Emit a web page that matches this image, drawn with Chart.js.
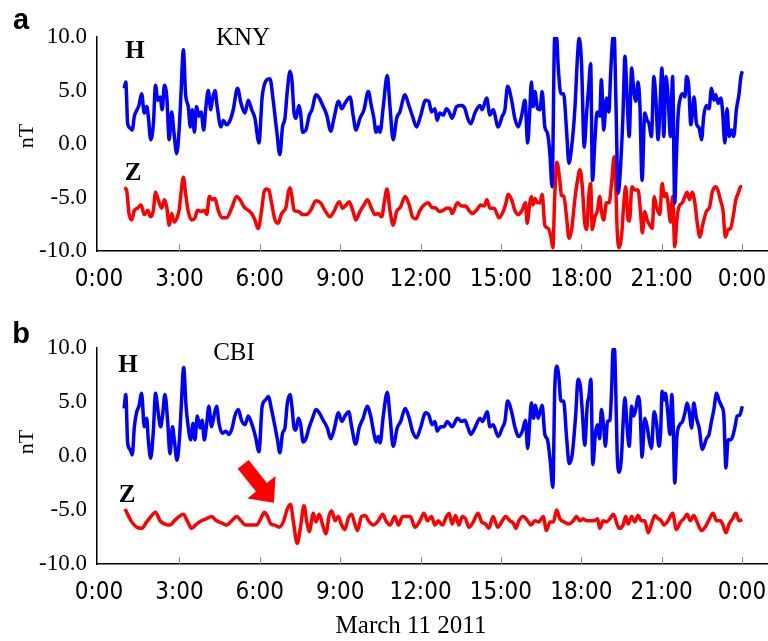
<!DOCTYPE html>
<html lang="en">
<head>
<meta charset="utf-8">
<title>KNY / CBI - March 11 2011</title>
<script src="https://cdn.jsdelivr.net/npm/chart.js@4.4.1/dist/chart.umd.min.js"></script>
<style>
    html, body { margin: 0; padding: 0; background: #fff; }
    #pagina { position: relative; width: 768px; height: 641px; overflow: hidden; }
    canvas { position: absolute; left: 0; }
    #graficoA { top: 0; }
    #graficoB { top: 310px; }
</style>
</head>
<body>
<div id="pagina">
    <canvas id="graficoA" width="768" height="300"></canvas>
    <canvas id="graficoB" width="768" height="331"></canvas>
</div>
<script>
// horas (UT) e valores em nT
const horasKnyH = [
    0.94, 1.00, 1.07, 1.16, 1.24, 1.32, 1.42, 1.49, 1.59, 1.69,
    1.78, 1.84, 1.93, 2.03, 2.11, 2.19, 2.28, 2.36, 2.44, 2.53,
    2.62, 2.71, 2.80, 2.90, 2.99, 3.06, 3.15, 3.23, 3.33, 3.41,
    3.48, 3.56, 3.64, 3.73, 3.81, 3.91, 3.98, 4.08, 4.17, 4.23,
    4.33, 4.41, 4.55, 4.64, 4.76, 4.89, 5.01, 5.17, 5.30, 5.45,
    5.57, 5.70, 5.82, 5.97, 6.09, 6.26, 6.38, 6.50, 6.63, 6.75,
    6.85, 6.94, 7.03, 7.13, 7.20, 7.28, 7.35, 7.46, 7.52, 7.60,
    7.72, 7.85, 7.95, 8.10, 8.22, 8.35, 8.50, 8.65, 8.77, 8.94,
    9.06, 9.18, 9.37, 9.49, 9.59, 9.74, 9.89, 10.05, 10.17, 10.26,
    10.34, 10.42, 10.49, 10.61, 10.76, 10.86, 10.98, 11.11, 11.23, 11.42,
    11.54, 11.70, 11.85, 12.00, 12.19, 12.31, 12.41, 12.54, 12.62, 12.72,
    12.85, 12.97, 13.05, 13.18, 13.35, 13.53, 13.66, 13.76, 13.88, 14.03,
    14.22, 14.30, 14.47, 14.59, 14.71, 14.90, 15.05, 15.15, 15.25, 15.40,
    15.52, 15.65, 15.77, 15.90, 16.00, 16.08, 16.14, 16.20, 16.27, 16.37,
    16.46, 16.54, 16.64, 16.74, 16.83, 16.91, 17.01, 17.08, 17.14, 17.24,
    17.34, 17.45, 17.54, 17.64, 17.76, 17.86, 17.92, 18.01, 18.11, 18.20,
    18.28, 18.35, 18.42, 18.51, 18.59, 18.69, 18.75, 18.84, 18.94, 19.03,
    19.10, 19.19, 19.23, 19.29, 19.38, 19.46, 19.56, 19.63, 19.71, 19.79,
    19.88, 19.96, 20.04, 20.12, 20.19, 20.27, 20.37, 20.46, 20.53, 20.62,
    20.71, 20.78, 20.87, 20.93, 21.01, 21.08, 21.16, 21.24, 21.33, 21.41,
    21.49, 21.55, 21.62, 21.71, 21.78, 21.87, 21.93, 22.01, 22.09, 22.15,
    22.21, 22.30, 22.40, 22.49, 22.57, 22.67, 22.77, 22.86, 22.95, 23.02,
    23.11, 23.21, 23.27, 23.36, 23.44, 23.52, 23.61, 23.69, 23.79, 23.89,
    23.96, 24.01
];
const knyH = [
    5.2, 5.8, 1.9, 1.5, 1.3, 2.6, 3.2, 3.6, 4.7, 2.9,
    3.5, 2.6, 0.4, 1.9, 5.5, 4.1, 4.4, 3.2, 5.5, 4.4,
    0.4, 3.0, 1.0, -0.9, 1.3, 4.7, 8.8, 4.7, 3.5, 1.6,
    3.2, 1.1, 3.5, 2.6, 3.0, 1.3, 3.2, 5.0, 3.2, 4.1,
    5.0, 3.5, 1.6, 2.2, 1.8, 2.2, 3.2, 5.2, 3.8, 2.9,
    4.1, 3.2, 2.4, 0.1, 4.4, 6.0, 6.1, 4.1, 1.3, -1.0,
    1.6, 2.4, 5.0, 6.8, 6.0, 2.9, 2.4, 3.6, 3.0, 1.1,
    1.3, 2.7, 3.2, 4.6, 4.3, 3.6, 2.7, 1.2, 2.4, 4.0,
    3.3, 3.8, 4.4, 2.6, 1.3, 2.4, 3.2, 4.9, 3.5, 2.4,
    1.1, 1.6, 1.1, 3.5, 6.4, 3.5, 0.4, 2.4, 3.0, 4.6,
    3.8, 2.6, 1.6, 2.6, 4.1, 4.0, 3.0, 3.3, 2.2, 2.9,
    2.7, 3.3, 3.1, 2.4, 3.5, 3.6, 3.3, 2.4, 1.9, 2.9,
    3.6, 3.2, 4.3, 2.7, 3.2, 1.6, 2.6, 3.2, 5.4, 4.1,
    2.4, 1.6, 2.6, 4.1, 0.1, 3.2, 5.8, 3.5, 4.9, 3.3,
    3.2, 4.9, 1.6, 1.0, -0.9, -4.0, 10.0, 10.0, 7.2, 4.7,
    4.7, 1.3, -1.8, -0.3, 3.2, 8.2, 9.9, 7.5, -0.3, 2.9,
    5.4, 7.5, -3.4, 0.4, 3.0, 2.6, 6.0, 1.3, 4.3, 3.0,
    6.8, 10.0, 10.0, 4.4, -4.6, -2.4, 2.9, 8.2, 4.4, 0.7,
    7.1, 5.0, 4.0, 5.8, 3.5, -3.4, 2.9, 2.2, 1.9, 0.7,
    6.3, 4.4, 0.4, 2.9, 7.1, 0.7, 6.3, 4.4, 0.7, 6.3,
    -5.5, -1.2, 2.9, 4.4, 4.7, 4.4, 6.3, 5.4, 1.8, 2.9,
    4.4, 1.9, 1.5, 0.4, 2.6, 3.6, 3.3, 5.2, 4.1, 4.6,
    3.8, 4.3, 3.2, 0.1, 3.3, 0.7, 1.3, 0.7, 3.2, 4.7,
    6.3, 6.8
];

const horasKnyZ = [
    0.94, 1.03, 1.12, 1.22, 1.32, 1.44, 1.57, 1.69, 1.82, 1.92,
    2.03, 2.11, 2.21, 2.34, 2.44, 2.53, 2.62, 2.71, 2.81, 2.91,
    2.99, 3.06, 3.15, 3.23, 3.33, 3.46, 3.58, 3.68, 3.81, 3.93,
    4.02, 4.12, 4.23, 4.33, 4.45, 4.60, 4.76, 4.95, 5.14, 5.26,
    5.42, 5.57, 5.70, 5.82, 5.94, 6.07, 6.16, 6.26, 6.34, 6.44,
    6.57, 6.69, 6.80, 6.88, 6.98, 7.06, 7.13, 7.20, 7.28, 7.44,
    7.60, 7.75, 7.90, 8.10, 8.27, 8.43, 8.62, 8.77, 8.97, 9.09,
    9.22, 9.34, 9.47, 9.59, 9.74, 9.89, 10.02, 10.17, 10.30, 10.42,
    10.55, 10.65, 10.75, 10.86, 10.98, 11.11, 11.25, 11.43, 11.58, 11.70,
    11.83, 11.98, 12.13, 12.29, 12.41, 12.57, 12.70, 12.85, 12.97, 13.10,
    13.18, 13.38, 13.53, 13.68, 13.81, 13.93, 14.09, 14.25, 14.38, 14.48,
    14.59, 14.75, 14.93, 15.09, 15.19, 15.27, 15.40, 15.52, 15.65, 15.79,
    15.92, 15.98, 16.08, 16.14, 16.20, 16.27, 16.37, 16.46, 16.54, 16.64,
    16.77, 16.87, 16.94, 17.01, 17.09, 17.20, 17.26, 17.35, 17.45, 17.54,
    17.64, 17.76, 17.86, 17.95, 18.03, 18.13, 18.20, 18.28, 18.35, 18.41,
    18.51, 18.60, 18.69, 18.75, 18.84, 18.94, 19.04, 19.13, 19.23, 19.29,
    19.34, 19.41, 19.50, 19.59, 19.66, 19.75, 19.80, 19.89, 20.00, 20.12,
    20.21, 20.28, 20.37, 20.46, 20.56, 20.65, 20.72, 20.81, 20.93, 21.02,
    21.10, 21.16, 21.24, 21.33, 21.41, 21.49, 21.57, 21.64, 21.77, 21.87,
    21.95, 22.04, 22.14, 22.24, 22.33, 22.43, 22.52, 22.67, 22.79, 22.89,
    23.01, 23.10, 23.19, 23.29, 23.38, 23.48, 23.57, 23.67, 23.77, 23.86,
    23.95, 24.01
];
const knyZ = [
    -4.1, -4.3, -6.5, -7.1, -6.2, -6.0, -5.7, -6.6, -6.2, -6.8,
    -6.2, -4.5, -5.2, -6.0, -5.2, -5.9, -7.6, -6.5, -7.3, -6.9,
    -6.2, -4.6, -3.1, -4.6, -6.3, -7.1, -6.9, -6.2, -6.3, -6.2,
    -6.6, -4.9, -5.2, -5.1, -6.2, -6.9, -6.9, -6.0, -4.9, -5.2,
    -5.9, -6.2, -6.5, -7.1, -7.9, -6.2, -4.5, -4.2, -4.3, -5.5,
    -7.1, -7.4, -6.6, -6.3, -5.9, -4.6, -4.1, -4.9, -6.2, -6.3,
    -6.6, -6.6, -6.2, -5.3, -5.5, -6.2, -6.8, -6.3, -5.4, -6.0,
    -5.7, -5.4, -6.2, -7.1, -6.3, -5.7, -5.2, -6.0, -6.6, -6.5,
    -6.8, -5.4, -4.2, -6.2, -7.6, -6.3, -5.9, -4.9, -5.7, -6.8,
    -7.0, -6.2, -5.7, -5.5, -5.9, -6.0, -6.3, -6.2, -6.0, -6.0,
    -6.5, -5.5, -5.8, -5.8, -6.2, -6.5, -6.2, -5.7, -5.8, -5.2,
    -6.0, -6.0, -6.9, -6.3, -5.5, -4.7, -5.2, -6.2, -6.6, -6.2,
    -5.5, -7.4, -5.5, -4.9, -5.7, -5.1, -5.5, -5.5, -4.7, -7.6,
    -7.9, -8.7, -9.7, -4.9, -1.7, -3.4, -4.8, -4.9, -6.8, -8.8,
    -8.0, -5.2, -3.4, -2.4, -3.7, -7.4, -8.0, -4.9, -3.7, -8.0,
    -6.8, -6.3, -4.9, -6.2, -7.1, -5.5, -5.5, -3.7, -1.2, -4.0,
    -8.0, -9.7, -8.7, -5.5, -4.0, -7.1, -7.2, -4.0, -4.3, -4.3,
    -6.3, -8.3, -6.3, -7.1, -7.6, -7.9, -4.9, -5.9, -6.6, -3.7,
    -4.9, -4.6, -5.5, -7.3, -4.9, -9.6, -7.1, -5.9, -5.5, -4.9,
    -4.5, -5.2, -4.5, -5.5, -7.4, -8.7, -7.7, -6.3, -5.9, -4.5,
    -4.0, -4.3, -5.2, -6.2, -8.7, -8.0, -7.9, -6.8, -5.2, -4.6,
    -4.0, -4.0
];

const horasCbiH = [
    0.94, 1.00, 1.07, 1.16, 1.24, 1.32, 1.41, 1.49, 1.59, 1.69,
    1.78, 1.84, 1.93, 2.03, 2.11, 2.21, 2.30, 2.37, 2.46, 2.56,
    2.65, 2.74, 2.81, 2.91, 3.00, 3.07, 3.16, 3.25, 3.33, 3.42,
    3.51, 3.58, 3.67, 3.77, 3.85, 3.93, 4.02, 4.10, 4.20, 4.29,
    4.39, 4.48, 4.60, 4.73, 4.85, 4.97, 5.07, 5.20, 5.32, 5.45,
    5.57, 5.70, 5.84, 5.97, 6.09, 6.22, 6.32, 6.44, 6.57, 6.66,
    6.75, 6.85, 6.94, 7.03, 7.13, 7.20, 7.28, 7.35, 7.44, 7.52,
    7.62, 7.72, 7.85, 7.97, 8.10, 8.22, 8.37, 8.52, 8.65, 8.77,
    8.94, 9.06, 9.18, 9.32, 9.43, 9.58, 9.71, 9.86, 10.01, 10.14,
    10.26, 10.34, 10.42, 10.49, 10.61, 10.76, 10.86, 10.98, 11.13, 11.26,
    11.43, 11.58, 11.70, 11.85, 12.00, 12.19, 12.31, 12.43, 12.54, 12.62,
    12.75, 12.87, 13.00, 13.18, 13.38, 13.53, 13.66, 13.76, 13.88, 14.03,
    14.22, 14.32, 14.49, 14.59, 14.71, 14.90, 15.05, 15.15, 15.25, 15.40,
    15.52, 15.67, 15.80, 15.92, 16.00, 16.08, 16.14, 16.22, 16.29, 16.39,
    16.54, 16.64, 16.74, 16.84, 16.94, 17.01, 17.09, 17.16, 17.24, 17.34,
    17.45, 17.55, 17.66, 17.79, 17.88, 17.97, 18.05, 18.13, 18.23, 18.28,
    18.36, 18.43, 18.53, 18.60, 18.69, 18.75, 18.84, 18.90, 18.98, 19.07,
    19.13, 19.19, 19.24, 19.29, 19.34, 19.41, 19.50, 19.56, 19.63, 19.71,
    19.79, 19.88, 19.96, 20.04, 20.12, 20.19, 20.27, 20.37, 20.46, 20.53,
    20.62, 20.72, 20.81, 20.90, 20.96, 21.02, 21.08, 21.14, 21.22, 21.31,
    21.38, 21.43, 21.49, 21.57, 21.68, 21.78, 21.87, 21.95, 22.03, 22.12,
    22.20, 22.30, 22.40, 22.52, 22.67, 22.77, 22.86, 22.95, 23.05, 23.15,
    23.24, 23.32, 23.40, 23.48, 23.57, 23.65, 23.73, 23.82, 23.92, 24.01
];
const cbiH = [
    4.4, 5.7, 1.2, 0.6, 0.1, 2.7, 4.1, 4.6, 5.8, 2.7,
    3.5, 1.5, -0.2, 2.4, 5.8, 4.0, 2.7, 3.7, 5.7, 3.3,
    0.2, 2.7, 1.5, -0.4, 1.5, 4.6, 8.2, 4.6, 2.7, 1.5,
    3.0, 1.5, 3.7, 2.6, 3.3, 1.5, 3.0, 4.6, 2.7, 3.7,
    4.6, 3.0, 2.1, 2.3, 2.0, 2.6, 3.7, 4.3, 3.3, 2.9,
    3.7, 3.0, 1.8, 0.4, 4.6, 5.2, 5.5, 4.3, 2.7, 1.5,
    0.3, 2.1, 2.6, 4.9, 5.7, 4.6, 2.6, 2.4, 3.5, 3.0,
    1.3, 1.6, 2.7, 3.5, 4.3, 4.0, 3.3, 2.6, 1.6, 2.4,
    4.0, 3.2, 3.7, 4.1, 2.7, 1.1, 2.6, 3.5, 4.6, 3.7,
    2.1, 1.3, 1.8, 1.2, 3.7, 5.9, 3.7, 0.9, 2.6, 3.2,
    4.4, 3.5, 2.3, 1.7, 2.6, 4.0, 3.8, 2.9, 3.2, 2.3,
    2.7, 2.7, 3.2, 2.7, 3.5, 3.2, 3.3, 2.7, 2.0, 2.6,
    3.5, 3.2, 4.1, 2.7, 2.9, 1.8, 2.6, 3.2, 5.1, 4.1,
    2.7, 1.8, 2.3, 3.3, 0.7, 3.3, 4.9, 3.5, 4.7, 3.5,
    4.7, 2.0, 1.5, -0.4, -2.9, 6.1, 8.3, 7.4, 5.1, 5.1,
    1.8, -0.7, 0.1, 3.7, 7.1, 6.4, 3.7, 1.0, 4.9, 5.4,
    7.1, -0.8, 2.1, 2.9, 1.6, 4.3, 2.7, 0.9, 3.2, 3.3,
    6.0, 9.9, 9.9, 5.8, 0.3, -1.5, -0.1, 3.0, 5.4, 2.7,
    0.9, 4.6, 3.7, 4.4, 5.5, 4.6, -0.1, 3.5, 2.7, 1.6,
    0.7, 4.1, 3.0, 0.9, 2.1, 6.0, 5.2, 5.8, 4.3, 2.0,
    5.7, 3.0, -2.5, 1.8, 2.9, 3.2, 4.0, 4.9, 4.1, 2.6,
    4.9, 3.5, 2.6, 0.6, 1.6, 2.0, 3.2, 4.3, 5.8, 5.1,
    4.6, 3.8, -1.1, 1.5, 1.5, 1.8, 2.6, 3.7, 3.8, 4.6
];

const horasCbiZ = [
    0.97, 1.09, 1.22, 1.41, 1.59, 1.78, 1.94, 2.11, 2.28, 2.46,
    2.65, 2.81, 2.99, 3.15, 3.31, 3.46, 3.64, 3.83, 4.02, 4.20,
    4.39, 4.58, 4.76, 4.95, 5.14, 5.30, 5.47, 5.70, 5.88, 6.04,
    6.17, 6.29, 6.42, 6.57, 6.72, 6.88, 7.03, 7.15, 7.25, 7.40,
    7.52, 7.65, 7.75, 7.85, 8.00, 8.10, 8.22, 8.35, 8.47, 8.59,
    8.69, 8.81, 8.93, 9.06, 9.18, 9.30, 9.43, 9.55, 9.65, 9.80,
    9.93, 10.09, 10.24, 10.42, 10.59, 10.71, 10.86, 11.04, 11.18, 11.33,
    11.48, 11.62, 11.79, 11.98, 12.13, 12.26, 12.41, 12.54, 12.66, 12.82,
    12.97, 13.07, 13.18, 13.31, 13.43, 13.56, 13.68, 13.81, 13.97, 14.15,
    14.28, 14.43, 14.55, 14.71, 14.88, 15.03, 15.18, 15.34, 15.46, 15.56,
    15.67, 15.83, 16.00, 16.12, 16.27, 16.42, 16.58, 16.70, 16.83, 16.96,
    17.08, 17.20, 17.35, 17.54, 17.70, 17.82, 17.95, 18.07, 18.20, 18.36,
    18.48, 18.61, 18.69, 18.82, 18.94, 19.07, 19.20, 19.41, 19.56, 19.66,
    19.75, 19.88, 20.00, 20.12, 20.25, 20.37, 20.50, 20.62, 20.75, 20.87,
    20.99, 21.08, 21.24, 21.41, 21.55, 21.71, 21.83, 21.95, 22.07, 22.20,
    22.32, 22.49, 22.67, 22.79, 22.92, 23.05, 23.20, 23.29, 23.40, 23.52,
    23.65, 23.77, 23.89, 24.01
];
const cbiZ = [
    -4.9, -5.5, -6.1, -6.6, -6.7, -6.1, -5.6, -5.2, -6.0, -6.3,
    -6.4, -6.0, -5.6, -5.4, -6.1, -6.7, -6.3, -6.0, -5.8, -5.6,
    -6.0, -6.2, -6.4, -6.0, -5.6, -6.0, -6.4, -6.4, -6.4, -5.8,
    -5.2, -5.6, -6.3, -6.4, -6.6, -6.1, -4.9, -4.5, -6.0, -8.1,
    -6.6, -4.6, -6.0, -7.0, -5.3, -6.1, -5.4, -6.4, -7.2, -5.5,
    -5.1, -6.0, -5.6, -6.4, -6.8, -5.8, -5.4, -6.3, -6.9, -5.6,
    -5.5, -6.1, -6.4, -6.0, -5.4, -6.0, -6.4, -5.6, -6.4, -5.6,
    -5.6, -5.6, -6.6, -6.0, -5.3, -6.0, -5.6, -6.4, -6.0, -6.4,
    -5.6, -5.3, -6.3, -5.5, -6.4, -5.6, -5.8, -6.6, -6.1, -5.3,
    -6.1, -6.3, -6.7, -5.6, -6.6, -6.1, -5.6, -6.0, -6.2, -6.7,
    -6.0, -5.6, -6.0, -6.4, -6.0, -6.1, -5.6, -6.9, -6.1, -6.1,
    -5.0, -5.8, -6.1, -6.3, -6.0, -5.6, -6.0, -5.8, -6.0, -6.0,
    -6.0, -5.8, -6.7, -6.0, -6.1, -5.8, -5.4, -6.7, -6.4, -5.6,
    -6.3, -5.6, -6.1, -5.5, -6.0, -6.0, -7.1, -6.3, -5.5, -5.8,
    -6.0, -6.4, -6.0, -5.3, -6.8, -6.1, -5.8, -5.4, -6.0, -5.5,
    -6.1, -6.9, -6.4, -5.8, -5.3, -6.0, -6.0, -6.4, -7.1, -6.3,
    -5.8, -5.3, -6.0, -5.9
];

const horasDosTicks = [0, 3, 6, 9, 12, 15, 18, 21, 24];
const rotulosDosTicks = ["0:00", "3:00", "6:00", "9:00", "12:00", "15:00", "18:00", "21:00", "0:00"];
const valoresDosTicksY = [-10, -5, 0, 5, 10];
const rotulosDosTicksY = ["-10.0", "-5.0", "0.0", "5.0", "10.0"];

const corH = "#0000ff";
const corZ = "#ff0000";
const fonteSerifa = "'Liberation Serif', 'Times New Roman', serif";
const fonteEstreita = "'Liberation Sans Narrow', 'DejaVu Sans Condensed', sans-serif";

function criarSerie(horas, valores, cor) {
    return {
        data: horas.map((h, i) => ({ x: h, y: valores[i] })),
        borderColor: cor,
        backgroundColor: cor,
        borderWidth: 3.5,
        pointRadius: 0,
        cubicInterpolationMode: "monotone",
        clip: 0
    };
}

function pluginAnotacoes(anot) {
    return {
        id: "anotacoes",
        afterDraw(chart) {
            const ctx = chart.ctx;
            const escalaX = chart.scales.x;
            const escalaY = chart.scales.y;
            const base = chart.chartArea.bottom;

            ctx.save();
            ctx.strokeStyle = "#8c8c8c";
            ctx.lineWidth = 1;
            horasDosTicks.forEach(h => {
                if (h === 0) return;
                const px = Math.round(escalaX.getPixelForValue(h)) + 0.5;
                ctx.beginPath();
                ctx.moveTo(px, base);
                ctx.lineTo(px, base - 7);
                ctx.stroke();
            });

            ctx.fillStyle = "#000";
            ctx.textAlign = "center";
            ctx.textBaseline = "alphabetic";

            ctx.font = "bold 29px 'Liberation Sans', Arial, sans-serif";
            ctx.fillText(anot.letra, anot.posLetra[0], anot.posLetra[1]);

            ctx.font = `25px ${fonteSerifa}`;
            ctx.fillText(anot.estacao, anot.posEstacao[0], anot.posEstacao[1]);

            ctx.font = `bold 25px ${fonteSerifa}`;
            ctx.fillText("H", anot.posH[0], anot.posH[1]);
            ctx.fillText("Z", anot.posZ[0], anot.posZ[1]);

            ctx.save();
            ctx.font = `22px ${fonteSerifa}`;
            ctx.translate(anot.posUnidade[0], anot.posUnidade[1]);
            ctx.rotate(-Math.PI / 2);
            ctx.fillText("nT", 0, 0);
            ctx.restore();

            if (anot.rodape) {
                ctx.font = `25px ${fonteSerifa}`;
                ctx.fillText(anot.rodape, anot.posRodape[0], anot.posRodape[1]);
            }

            if (anot.seta) {
                const x0 = escalaX.getPixelForValue(anot.seta.de[0]);
                const y0 = escalaY.getPixelForValue(anot.seta.de[1]);
                const x1 = escalaX.getPixelForValue(anot.seta.ate[0]);
                const y1 = escalaY.getPixelForValue(anot.seta.ate[1]);
                const comp = Math.hypot(x1 - x0, y1 - y0);
                const ux = (x1 - x0) / comp, uy = (y1 - y0) / comp;
                const nx = -uy, ny = ux;
                const haste = 7, cabeca = 18, compCabeca = 20;
                const bx = x1 - ux * compCabeca, by = y1 - uy * compCabeca;
                ctx.fillStyle = corZ;
                ctx.beginPath();
                ctx.moveTo(x0 + nx * haste, y0 + ny * haste);
                ctx.lineTo(bx + nx * haste, by + ny * haste);
                ctx.lineTo(bx + nx * cabeca, by + ny * cabeca);
                ctx.lineTo(x1, y1);
                ctx.lineTo(bx - nx * cabeca, by - ny * cabeca);
                ctx.lineTo(bx - nx * haste, by - ny * haste);
                ctx.lineTo(x0 - nx * haste, y0 - ny * haste);
                ctx.closePath();
                ctx.fill();
            }
            ctx.restore();
        }
    };
}

function criarGrafico(canvas, series, topo, alturaEixoX, anot) {
    return new Chart(canvas, {
        type: "line",
        data: { datasets: series },
        options: {
            responsive: false,
            animation: false,
            devicePixelRatio: 1,
            layout: { padding: { top: topo, right: 0, bottom: 0, left: 0 } },
            plugins: {
                legend: { display: false },
                tooltip: { enabled: false }
            },
            scales: {
                x: {
                    type: "linear",
                    min: -0.075,
                    max: 24.97,
                    afterBuildTicks: escala => { escala.ticks = horasDosTicks.map(h => ({ value: h })); },
                    afterFit: escala => {
                        escala.height = alturaEixoX;
                        escala.paddingLeft = 0;
                        escala.paddingRight = 0;
                    },
                    grid: { display: false, drawTicks: false },
                    border: { display: true, color: "#000", width: 1.5 },
                    ticks: {
                        autoSkip: false,
                        maxRotation: 0,
                        padding: 14,
                        color: "#000",
                        font: { family: fonteEstreita, size: 24 },
                        callback: (valor, indice) => rotulosDosTicks[indice]
                    }
                },
                y: {
                    type: "linear",
                    min: -10,
                    max: 10,
                    afterBuildTicks: escala => { escala.ticks = valoresDosTicksY.map(v => ({ value: v })); },
                    afterFit: escala => { escala.width = 97; },
                    grid: { display: false, drawTicks: false },
                    border: { display: true, color: "#000", width: 1.5 },
                    ticks: {
                        padding: 10,
                        color: "#000",
                        font: { family: fonteSerifa, size: 23 },
                        callback: (valor, indice) => rotulosDosTicksY[indice]
                    }
                }
            }
        },
        plugins: [pluginAnotacoes(anot)]
    });
}

criarGrafico(document.querySelector("#graficoA"),
    [criarSerie(horasKnyH, knyH, corH), criarSerie(horasKnyZ, knyZ, corZ)],
    37, 49, {
        letra: "a", posLetra: [21, 29],
        estacao: "KNY", posEstacao: [243, 45],
        posH: [135, 58], posZ: [133, 180],
        posUnidade: [33, 136]
    });

criarGrafico(document.querySelector("#graficoB"),
    [criarSerie(horasCbiH, cbiH, corH), criarSerie(horasCbiZ, cbiZ, corZ)],
    38, 77, {
        letra: "b", posLetra: [21, 33],
        estacao: "CBI", posEstacao: [234, 50],
        posH: [128, 62], posZ: [127, 192],
        posUnidade: [33, 132],
        rodape: "March 11 2011", posRodape: [411, 323],
        seta: { de: [5.38, -0.77], ate: [6.53, -4.34] }
    });
</script>
</body>
</html>
